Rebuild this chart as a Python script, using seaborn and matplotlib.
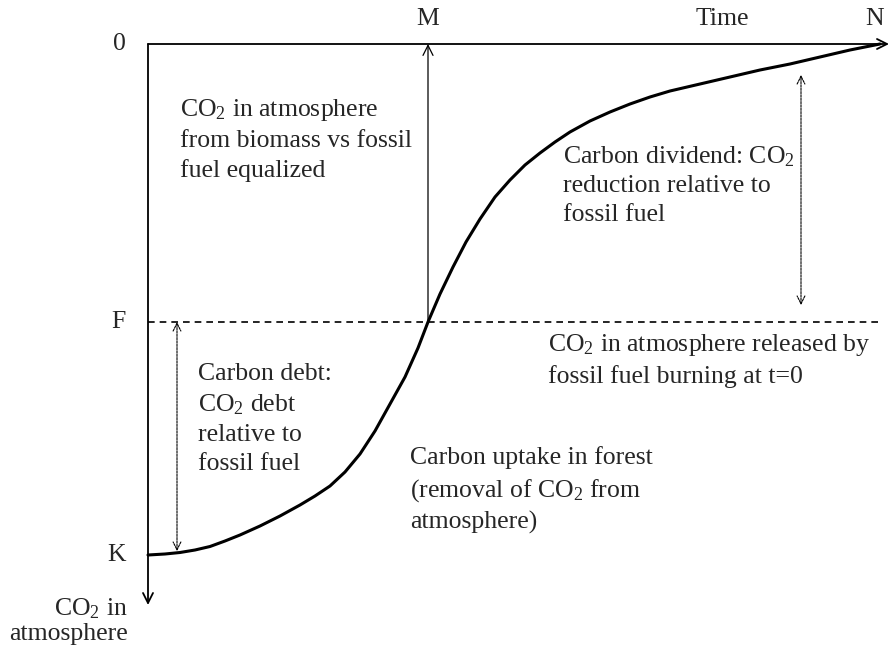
import matplotlib
matplotlib.use("Agg")
import matplotlib.pyplot as plt
import seaborn as sns
import pandas as pd

# curve (time to the right, CO2 in atmosphere downward)
time_pts = [0, 17, 32, 47, 62, 77, 92, 112, 132, 152, 167, 182, 197, 212,
            227, 242, 257, 270, 280, 292, 305, 318, 332, 347, 362, 377, 392,
            407, 422, 442, 462, 482, 502, 522, 552, 582, 612, 642, 672, 702, 732]
co2_pts = [511, 510, 508.5, 506, 502.5, 497, 491, 482, 472, 461, 452, 442, 428,
           410, 387, 360, 333, 304, 278, 250, 223, 198, 175, 153, 136, 121, 109,
           98, 88, 77, 68, 60, 53, 47, 40, 33, 26, 20, 13, 6, 0]

level_names = ["0", "F", "K"]
level_vals = [0, 278, 511]
time_names = ["M", "Time", "N"]
time_vals = [280, 574, 727]

sns.set_style("white")
plt.rcParams["font.family"] = ["Liberation Serif", "DejaVu Serif"]
plt.rcParams["mathtext.fontset"] = "custom"
plt.rcParams["mathtext.rm"] = "Liberation Serif"
plt.rcParams["mathtext.it"] = "Liberation Serif:italic"

fig = plt.figure(figsize=(8.91, 6.51), dpi=100)
ax = fig.add_axes([0, 0, 1, 1])
ax.set_xlim(-148, 891 - 148)
ax.set_ylim(651 - 44, -44)
ax.axis("off")

df = pd.DataFrame({"t": time_pts, "co2": co2_pts})
sns.lineplot(data=df, x="t", y="co2", ax=ax, color="black", lw=2.2, sort=False)

# axes with open arrowheads
ax.annotate("", xy=(741, 0), xytext=(0, 0), annotation_clip=False,
            arrowprops=dict(arrowstyle="->", color="black", lw=1.3,
                            mutation_scale=18, shrinkA=0, shrinkB=0))
ax.annotate("", xy=(0, 561), xytext=(0, 0), annotation_clip=False,
            arrowprops=dict(arrowstyle="->", color="black", lw=1.3,
                            mutation_scale=18, shrinkA=0, shrinkB=0))

# F reference line
ax.plot([0, 730], [level_vals[1]] * 2, color="black", lw=1.2, ls=(0, (4, 3)))

# M arrow
ax.annotate("", xy=(time_vals[0], 0), xytext=(time_vals[0], level_vals[1]),
            arrowprops=dict(arrowstyle="->", color="black", lw=0.9,
                            mutation_scale=18, shrinkA=0, shrinkB=0))

# dotted double arrows
dotted = dict(arrowstyle="<->", color="black", lw=0.8, ls=(0, (2, 1)),
              mutation_scale=14, shrinkA=0, shrinkB=0)
ax.annotate("", xy=(653, 31), xytext=(653, 261), arrowprops=dotted)
ax.annotate("", xy=(29, level_vals[1]), xytext=(29, 507), arrowprops=dotted)

fs = 18.5
for name, v in zip(level_names, level_vals):
    ax.text(-22, v, name, ha="right", va="center", fontsize=fs)
for name, v in zip(time_names, time_vals):
    ax.text(v, -25, name, ha="center", va="center", fontsize=fs)

ax.text(-20, 577, "CO$_2$ in\natmosphere", ha="right", va="center",
        fontsize=fs, multialignment="right", linespacing=1.1)

ls = 1.4
ax.text(32, 53, "CO$_2$ in atmosphere\nfrom biomass vs fossil\nfuel equalized",
        ha="left", va="top", fontsize=fs, linespacing=ls)
ax.text(415, 100, "Carbon dividend: CO$_2$\nreduction relative to\nfossil fuel",
        ha="left", va="top", fontsize=fs, linespacing=ls)
ax.text(400, 288, "CO$_2$ in atmosphere released by\nfossil fuel burning at t=0",
        ha="left", va="top", fontsize=fs, linespacing=ls)
ax.text(262, 402, "Carbon uptake in forest\n(removal of CO$_2$ from\natmosphere)",
        ha="left", va="top", fontsize=fs, linespacing=ls)
ax.text(50, 319, "Carbon debt:\nCO$_2$ debt\nrelative to\nfossil fuel",
        ha="left", va="top", fontsize=fs, linespacing=ls)

fig.savefig("out.png", dpi=100)
